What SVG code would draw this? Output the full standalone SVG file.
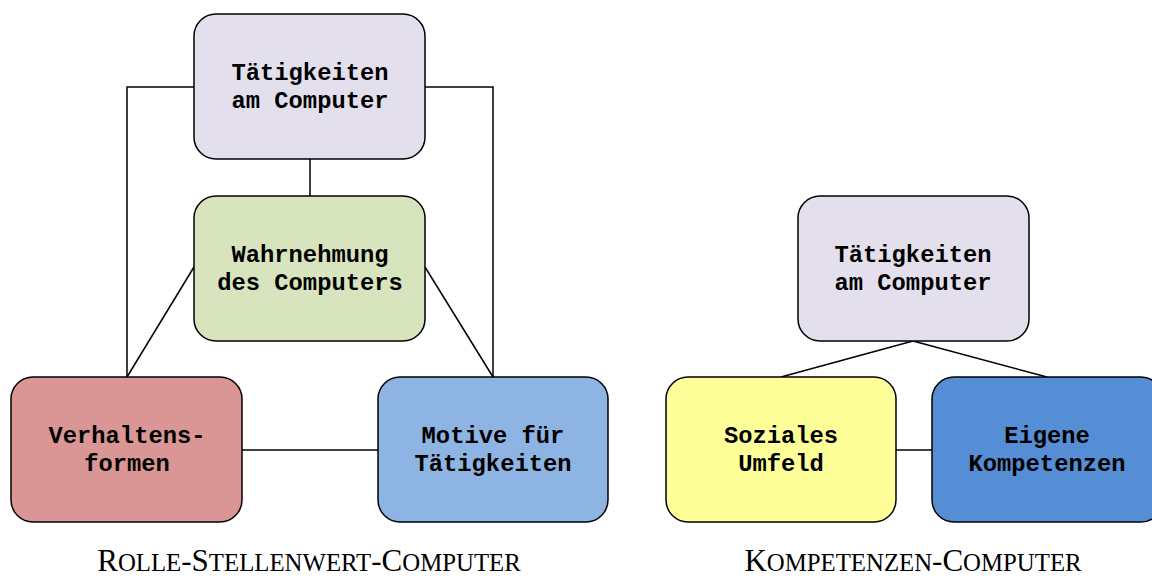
<svg xmlns="http://www.w3.org/2000/svg" width="1152" height="579" viewBox="0 0 1152 579">
<style>
.box{stroke:#000;stroke-width:1.5}
.lbl{font-family:"Liberation Mono","DejaVu Sans Mono",monospace;font-weight:bold;font-size:23.8px;text-anchor:middle;fill:#000}
.cap{font-family:"Liberation Serif","DejaVu Serif",serif;font-size:31px;text-anchor:middle;fill:#000}
.sm{font-size:24.8px}
.con{fill:none;stroke:#000;stroke-width:1.5}
</style>
<rect width="1152" height="579" fill="#fff"/>
<g id="connectors">
<polyline class="con" points="194,87 127,87 127,377"/>
<polyline class="con" points="425,87 493,87 493,377"/>
<line class="con" x1="310" y1="159" x2="310" y2="196"/>
<line class="con" x1="194" y1="267" x2="127" y2="377"/>
<line class="con" x1="425" y1="267" x2="493" y2="377"/>
<line class="con" x1="242" y1="450" x2="378" y2="450"/>
<line class="con" x1="913" y1="341" x2="781" y2="377"/>
<line class="con" x1="913" y1="341" x2="1047" y2="377"/>
<line class="con" x1="896" y1="450" x2="932" y2="450"/>
</g>
<g id="n-taetigkeiten-1">
<rect class="box" x="194" y="14" width="231" height="145" rx="22" fill="#E4DFEC"/>
<text class="lbl" x="310" y="80">Tätigkeiten</text>
<text class="lbl" x="310" y="108">am Computer</text>
</g>
<g id="n-wahrnehmung">
<rect class="box" x="194" y="196" width="231" height="145" rx="22" fill="#D7E4BD"/>
<text class="lbl" x="310" y="262">Wahrnehmung</text>
<text class="lbl" x="310" y="290">des Computers</text>
</g>
<g id="n-verhalten">
<rect class="box" x="11" y="377" width="231" height="145" rx="22" fill="#DA9694"/>
<text class="lbl" x="127" y="443">Verhaltens-</text>
<text class="lbl" x="127" y="471">formen</text>
</g>
<g id="n-motive">
<rect class="box" x="378" y="377" width="230" height="145" rx="22" fill="#8EB4E3"/>
<text class="lbl" x="493" y="443">Motive für</text>
<text class="lbl" x="493" y="471">Tätigkeiten</text>
</g>
<g id="n-taetigkeiten-2">
<rect class="box" x="798" y="196" width="231" height="145" rx="22" fill="#E4DFEC"/>
<text class="lbl" x="913" y="262">Tätigkeiten</text>
<text class="lbl" x="913" y="290">am Computer</text>
</g>
<g id="n-soziales">
<rect class="box" x="666" y="377" width="230" height="145" rx="22" fill="#FFFF99"/>
<text class="lbl" x="781" y="443">Soziales</text>
<text class="lbl" x="781" y="471">Umfeld</text>
</g>
<g id="n-eigene">
<rect class="box" x="932" y="377" width="231" height="145" rx="22" fill="#558ED5"/>
<text class="lbl" x="1047" y="443">Eigene</text>
<text class="lbl" x="1047" y="471">Kompetenzen</text>
</g>
<g id="captions">
<text class="cap" x="309" y="571">R<tspan class="sm">OLLE</tspan>-S<tspan class="sm">TELLENWERT</tspan>-C<tspan class="sm">OMPUTER</tspan></text>
<text class="cap" x="913" y="571">K<tspan class="sm">OMPETENZEN</tspan>-C<tspan class="sm">OMPUTER</tspan></text>
</g>
</svg>
